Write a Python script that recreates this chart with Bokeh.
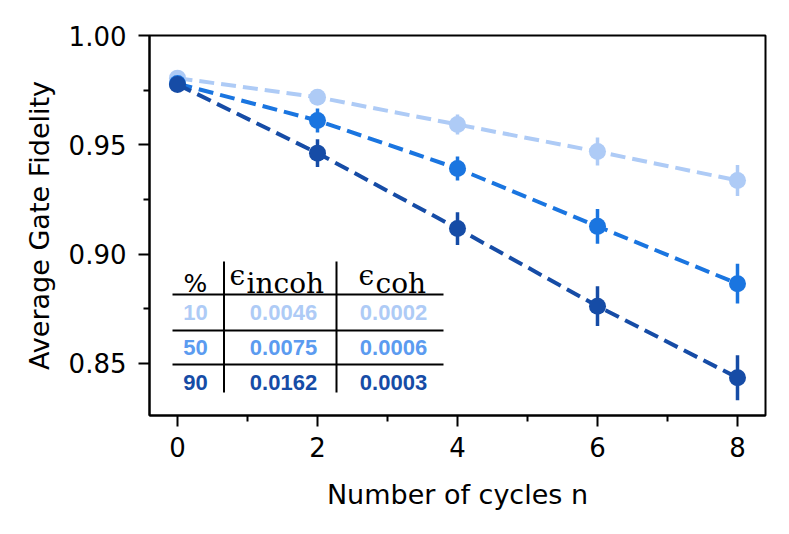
from bokeh.plotting import figure
from bokeh.models import ColumnDataSource, Label, FixedTicker, PrintfTickFormatter, Range1d
from bokeh.embed import file_html
from bokeh.resources import INLINE

# ---- data ----
cycles = [0, 2, 4, 6, 8]
fid_10 = [0.9805, 0.9718, 0.9593, 0.9469, 0.9337]
err_10 = [0.002, 0.003, 0.0046, 0.0064, 0.0071]
fid_50 = [0.9780, 0.9611, 0.9392, 0.9127, 0.8865]
err_50 = [0.002, 0.0055, 0.0055, 0.0079, 0.0091]
fid_90 = [0.9776, 0.9462, 0.9117, 0.8762, 0.8435]
err_90 = [0.002, 0.0064, 0.0075, 0.0091, 0.0103]

x_ticks = [0, 2, 4, 6, 8]
x_minor = [1, 3, 5, 7]
y_ticks = [0.85, 0.90, 0.95, 1.00]
y_minor = [0.875, 0.925, 0.975]

table_pct = ["10", "50", "90"]
table_incoh = ["0.0046", "0.0075", "0.0162"]
table_coh = ["0.0002", "0.0006", "0.0003"]

colors = ["#aecbf6", "#1a75e0", "#164ca6"]
table_colors = ["#aecbf6", "#5b9bf0", "#164ca6"]

XMIN, XMAX = -0.4, 8.4
YMIN, YMAX = 0.8262, 1.0
FL, FT, FW, FH = 149, 35, 616, 380  # frame position in the picture, px


def px2x(wx):
    return XMIN + (wx - FL) * (XMAX - XMIN) / FW


def px2y(wy):
    return YMAX - (wy - FT) * (YMAX - YMIN) / FH


p = figure(frame_width=FW, frame_height=FH,
           x_range=Range1d(XMIN, XMAX), y_range=Range1d(YMIN, YMAX),
           output_backend="svg", toolbar_location=None,
           min_border_left=FL, min_border_right=23,
           min_border_top=FT, min_border_bottom=118)
p.background_fill_color = "white"
p.border_fill_color = "white"
p.outline_line_color = "black"
p.outline_line_width = 2
p.outline_line_alpha = 1
p.xgrid.visible = False
p.ygrid.visible = False

p.xaxis.ticker = FixedTicker(ticks=x_ticks, minor_ticks=x_minor)
p.yaxis.ticker = FixedTicker(ticks=y_ticks, minor_ticks=y_minor)
p.yaxis.formatter = PrintfTickFormatter(format="%.2f")
for ax in (p.xaxis, p.yaxis):
    ax.axis_line_width = 2
    ax.axis_line_color = "black"
    ax.major_tick_in = 0
    ax.major_tick_out = 11
    ax.minor_tick_in = 0
    ax.minor_tick_out = 6
    ax.major_tick_line_width = 2
    ax.minor_tick_line_width = 2
    ax.major_tick_line_color = "black"
    ax.minor_tick_line_color = "black"
    ax.major_label_text_font = "DejaVu Sans"
    ax.major_label_text_font_size = "26px"
    ax.major_label_text_color = "black"
    ax.axis_label_text_font = "DejaVu Sans"
    ax.axis_label_text_font_size = "27px"
    ax.axis_label_text_font_style = "normal"
    ax.axis_label_text_color = "black"
p.xaxis.major_label_standoff = 10
p.yaxis.major_label_standoff = 12
p.yaxis.axis_label = "Average Gate Fidelity"
p.yaxis.axis_label_standoff = 11
p.xaxis.axis_label = "Number of cycles n"
p.xaxis.axis_label_standoff = 19

# ---- series ----
for f, e, c in [(fid_10, err_10, colors[0]), (fid_50, err_50, colors[1]), (fid_90, err_90, colors[2])]:
    src = ColumnDataSource(dict(x=cycles, y=f,
                                lo=[a - b for a, b in zip(f, e)],
                                hi=[a + b for a, b in zip(f, e)]))
    p.line("x", "y", source=src, line_color=c, line_width=4, line_dash="15 7")
    p.segment(x0="x", y0="lo", x1="x", y1="hi", source=src, line_color=c, line_width=3.5)
    p.scatter("x", "y", source=src, size=17, fill_color=c, line_color=c, line_width=0)

# ---- inset table ----
tx0, tx1 = px2x(172), px2x(443)
for wy in (294, 330, 364):
    p.segment(x0=[tx0], y0=[px2y(wy)], x1=[tx1], y1=[px2y(wy)], line_color="black", line_width=2)
for wx in (223.5, 336):
    p.segment(x0=[px2x(wx)], y0=[px2y(261)], x1=[px2x(wx)], y1=[px2y(392)],
              line_color="black", line_width=2)

p.add_layout(Label(x=px2x(195), y=px2y(283), text="%", text_align="center",
                   text_baseline="alphabetic", text_font="DejaVu Sans", text_font_size="25px",
                   text_color="black"))
for eps_x, sub_x, sub in [(229, 246, "incoh"), (358, 375, "coh")]:
    p.add_layout(Label(x=px2x(eps_x), y=px2y(275), text="\u03f5", text_align="left",
                       text_baseline="alphabetic", text_font="DejaVu Serif", text_font_size="28px",
                       text_color="black"))
    p.add_layout(Label(x=px2x(sub_x), y=px2y(283), text=sub, text_align="left",
                       text_baseline="alphabetic", text_font="DejaVu Serif", text_font_size="28px",
                       text_color="black"))

row_y = [312, 347, 382]
for i in range(3):
    for cx, txt in [(195, table_pct[i]), (283, table_incoh[i]), (393, table_coh[i])]:
        p.add_layout(Label(x=px2x(cx), y=px2y(row_y[i]), text=txt, text_align="center",
                           text_baseline="middle", text_font="Liberation Sans", text_font_size="22px",
                           text_font_style="bold", text_color=table_colors[i]))

open("out.html", "w").write(file_html(p, INLINE))
